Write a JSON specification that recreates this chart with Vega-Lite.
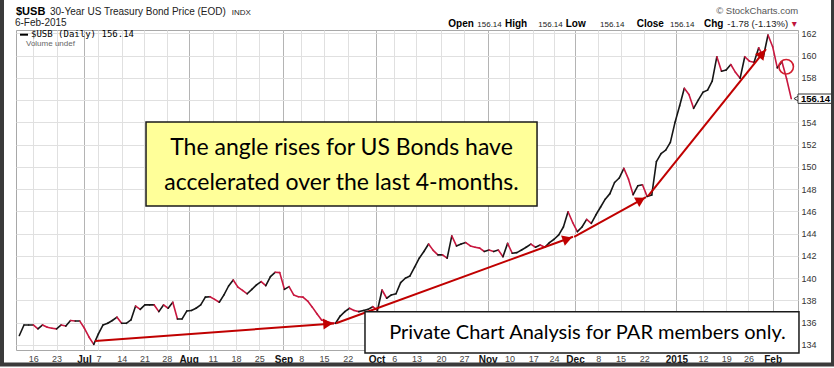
{
  "$schema": "https://vega.github.io/schema/vega-lite/v6.json",
  "width": 782,
  "height": 320,
  "autosize": {"type": "none"},
  "padding": {"left": 16, "top": 30, "right": 36, "bottom": 18},
  "background": "white",
  "config": {"view": {"stroke": "#a8a8a8", "strokeWidth": 1}, "axis": {"labelFont": "Liberation Sans"}},
  "datasets": {
    "px": [
      {"d":"2014-06-11","i":0,"p":134.85},{"d":"2014-06-12","i":1,"p":135.8},{"d":"2014-06-13","i":2,"p":135.8},{"d":"2014-06-16","i":3,"p":135.8},{"d":"2014-06-17","i":4,"p":135.45},{"d":"2014-06-18","i":5,"p":135.8},{"d":"2014-06-19","i":6,"p":135.6},{"d":"2014-06-20","i":7,"p":135.5},{"d":"2014-06-23","i":8,"p":135.45},{"d":"2014-06-24","i":9,"p":135.8},{"d":"2014-06-25","i":10,"p":135.7},{"d":"2014-06-26","i":11,"p":136.2},{"d":"2014-06-27","i":12,"p":136.15},{"d":"2014-06-30","i":13,"p":136.15},
      {"d":"2014-07-01","i":14,"p":135.5},{"d":"2014-07-02","i":15,"p":134.7},{"d":"2014-07-03","i":16,"p":134.06},{"d":"2014-07-07","i":17,"p":135.0},{"d":"2014-07-08","i":18,"p":135.8},{"d":"2014-07-09","i":19,"p":135.95},{"d":"2014-07-10","i":20,"p":136.2},{"d":"2014-07-11","i":21,"p":136.5},{"d":"2014-07-14","i":22,"p":135.95},{"d":"2014-07-15","i":23,"p":135.95},{"d":"2014-07-16","i":24,"p":136.25},{"d":"2014-07-17","i":25,"p":137.5},{"d":"2014-07-18","i":26,"p":137.2},{"d":"2014-07-21","i":27,"p":137.6},{"d":"2014-07-22","i":28,"p":137.6},{"d":"2014-07-23","i":29,"p":137.6},{"d":"2014-07-24","i":30,"p":137.0},{"d":"2014-07-25","i":31,"p":137.6},{"d":"2014-07-28","i":32,"p":137.3},{"d":"2014-07-29","i":33,"p":137.84},{"d":"2014-07-30","i":34,"p":136.34},{"d":"2014-07-31","i":35,"p":136.34},
      {"d":"2014-08-01","i":36,"p":137.05},{"d":"2014-08-04","i":37,"p":137.1},{"d":"2014-08-05","i":38,"p":137.3},{"d":"2014-08-06","i":39,"p":137.6},{"d":"2014-08-07","i":40,"p":138.3},{"d":"2014-08-08","i":41,"p":138.34},{"d":"2014-08-11","i":42,"p":138.1},{"d":"2014-08-12","i":43,"p":137.84},{"d":"2014-08-13","i":44,"p":138.5},{"d":"2014-08-14","i":45,"p":139.3},{"d":"2014-08-15","i":46,"p":139.84},{"d":"2014-08-18","i":47,"p":139.2},{"d":"2014-08-19","i":48,"p":138.9},{"d":"2014-08-20","i":49,"p":138.6},{"d":"2014-08-21","i":50,"p":139.0},{"d":"2014-08-22","i":51,"p":139.4},{"d":"2014-08-25","i":52,"p":139.7},{"d":"2014-08-26","i":53,"p":139.33},{"d":"2014-08-27","i":54,"p":140.14},{"d":"2014-08-28","i":55,"p":140.53},{"d":"2014-08-29","i":56,"p":140.5},
      {"d":"2014-09-02","i":57,"p":139.0},{"d":"2014-09-03","i":58,"p":139.24},{"d":"2014-09-04","i":59,"p":138.5},{"d":"2014-09-05","i":60,"p":138.34},{"d":"2014-09-08","i":61,"p":138.3},{"d":"2014-09-09","i":62,"p":137.95},{"d":"2014-09-10","i":63,"p":137.4},{"d":"2014-09-11","i":64,"p":136.8},{"d":"2014-09-12","i":65,"p":136.25},{"d":"2014-09-15","i":66,"p":136.1},{"d":"2014-09-16","i":67,"p":136.0},{"d":"2014-09-17","i":68,"p":135.95},{"d":"2014-09-18","i":69,"p":136.6},{"d":"2014-09-19","i":70,"p":137.0},{"d":"2014-09-22","i":71,"p":137.3},{"d":"2014-09-23","i":72,"p":137.1},{"d":"2014-09-24","i":73,"p":137.0},{"d":"2014-09-25","i":74,"p":137.1},{"d":"2014-09-26","i":75,"p":137.2},{"d":"2014-09-29","i":76,"p":137.44},{"d":"2014-09-30","i":77,"p":137.1},
      {"d":"2014-10-01","i":78,"p":138.94},{"d":"2014-10-02","i":79,"p":138.2},{"d":"2014-10-03","i":80,"p":138.5},{"d":"2014-10-06","i":81,"p":138.6},{"d":"2014-10-07","i":82,"p":139.6},{"d":"2014-10-08","i":83,"p":140.0},{"d":"2014-10-09","i":84,"p":140.2},{"d":"2014-10-10","i":85,"p":141.0},{"d":"2014-10-13","i":86,"p":141.8},{"d":"2014-10-14","i":87,"p":142.4},{"d":"2014-10-15","i":88,"p":143.07},{"d":"2014-10-16","i":89,"p":142.5},{"d":"2014-10-17","i":90,"p":142.1},{"d":"2014-10-20","i":91,"p":142.1},{"d":"2014-10-21","i":92,"p":141.8},{"d":"2014-10-22","i":93,"p":143.8},{"d":"2014-10-23","i":94,"p":142.9},{"d":"2014-10-24","i":95,"p":143.07},{"d":"2014-10-27","i":96,"p":143.2},{"d":"2014-10-28","i":97,"p":142.9},{"d":"2014-10-29","i":98,"p":142.78},{"d":"2014-10-30","i":99,"p":142.7},{"d":"2014-10-31","i":100,"p":142.4},
      {"d":"2014-11-03","i":101,"p":142.53},{"d":"2014-11-04","i":102,"p":142.4},{"d":"2014-11-05","i":103,"p":142.53},{"d":"2014-11-06","i":104,"p":141.93},{"d":"2014-11-07","i":105,"p":143.13},{"d":"2014-11-10","i":106,"p":142.24},{"d":"2014-11-11","i":107,"p":142.3},{"d":"2014-11-12","i":108,"p":142.53},{"d":"2014-11-13","i":109,"p":142.78},{"d":"2014-11-14","i":110,"p":143.07},{"d":"2014-11-17","i":111,"p":142.78},{"d":"2014-11-18","i":112,"p":142.98},{"d":"2014-11-19","i":113,"p":142.78},{"d":"2014-11-20","i":114,"p":143.2},{"d":"2014-11-21","i":115,"p":143.5},{"d":"2014-11-24","i":116,"p":143.9},{"d":"2014-11-25","i":117,"p":144.6},{"d":"2014-11-26","i":118,"p":145.97},{"d":"2014-11-28","i":119,"p":145.0},
      {"d":"2014-12-01","i":120,"p":144.18},{"d":"2014-12-02","i":121,"p":144.6},{"d":"2014-12-03","i":122,"p":145.28},{"d":"2014-12-04","i":123,"p":144.93},{"d":"2014-12-05","i":124,"p":145.7},{"d":"2014-12-08","i":125,"p":146.4},{"d":"2014-12-09","i":126,"p":147.1},{"d":"2014-12-10","i":127,"p":147.6},{"d":"2014-12-11","i":128,"p":148.6},{"d":"2014-12-12","i":129,"p":149.0},{"d":"2014-12-15","i":130,"p":149.87},{"d":"2014-12-16","i":131,"p":148.9},{"d":"2014-12-17","i":132,"p":147.5},{"d":"2014-12-18","i":133,"p":148.3},{"d":"2014-12-19","i":134,"p":148.4},{"d":"2014-12-22","i":135,"p":147.35},{"d":"2014-12-23","i":136,"p":147.47},{"d":"2014-12-24","i":137,"p":150.47},{"d":"2014-12-26","i":138,"p":151.2},{"d":"2014-12-29","i":139,"p":151.5},{"d":"2014-12-30","i":140,"p":152.2},{"d":"2014-12-31","i":141,"p":154.0},
      {"d":"2015-01-02","i":142,"p":155.5},{"d":"2015-01-05","i":143,"p":157.06},{"d":"2015-01-06","i":144,"p":156.5},{"d":"2015-01-07","i":145,"p":155.26},{"d":"2015-01-08","i":146,"p":156.0},{"d":"2015-01-09","i":147,"p":156.7},{"d":"2015-01-12","i":148,"p":156.9},{"d":"2015-01-13","i":149,"p":157.7},{"d":"2015-01-14","i":150,"p":159.9},{"d":"2015-01-15","i":151,"p":158.6},{"d":"2015-01-16","i":152,"p":158.7},{"d":"2015-01-20","i":153,"p":159.2},{"d":"2015-01-21","i":154,"p":158.5},{"d":"2015-01-22","i":155,"p":157.96},{"d":"2015-01-23","i":156,"p":159.9},{"d":"2015-01-26","i":157,"p":159.5},{"d":"2015-01-27","i":158,"p":159.4},{"d":"2015-01-28","i":159,"p":160.7},{"d":"2015-01-29","i":160,"p":159.9},{"d":"2015-01-30","i":161,"p":161.85},
      {"d":"2015-02-02","i":162,"p":160.8},{"d":"2015-02-03","i":163,"p":158.9},{"d":"2015-02-04","i":164,"p":159.45},{"d":"2015-02-05","i":165,"p":157.92},{"d":"2015-02-06","i":166,"p":156.14}
    ]
  },
  "layer": [
    {
      "data": {"name": "px"},
      "transform": [
        {"window": [{"op": "lag", "field": "i", "as": "pi"}, {"op": "lag", "field": "p", "as": "pp"}], "sort": [{"field": "i", "order": "ascending"}]},
        {"filter": "datum.pi != null"}
      ],
      "mark": {"type": "rule", "strokeWidth": 1.6, "strokeCap": "round"},
      "encoding": {
        "x": {"field": "pi", "type": "quantitative", "title": null,
          "scale": {"domain": [-0.72, 167.45], "nice": false, "zero": false},
          "axis": {
            "title": null,
            "tickCount": 200,
            "values": [3,8,13.9,17,22,26.9,31.7,36.4,41.6,46.6,51.6,56.8,60.6,65.5,70.6,76.8,80.6,85.4,90.7,95.6,100.7,105.4,110.5,115,119.5,124.5,129.3,134.4,141.3,147,152,156.8,162],
            "labelExpr": "['16','23','Jul','7','14','21','28','Aug','11','18','25','Sep','8','15','22','Oct','6','13','20','27','Nov','10','17','24','Dec','8','15','22','2015','12','19','26','Feb'][indexof([3,8,13.9,17,22,26.9,31.7,36.4,41.6,46.6,51.6,56.8,60.6,65.5,70.6,76.8,80.6,85.4,90.7,95.6,100.7,105.4,110.5,115,119.5,124.5,129.3,134.4,141.3,147,152,156.8,162],datum.value)]",
            "labelOverlap": false, "labelFlush": false, "labelBound": false,
            "ticks": false, "domain": false, "grid": true, "labelPadding": 4,
            "gridColor": {"condition": {"test": "indexof([13.9,36.4,56.8,76.8,100.7,119.5,141.3,162],datum.value)>=0", "value": "#b4b4b4"}, "value": "#e0e0e0"},
            "labelFontWeight": {"condition": {"test": "indexof([13.9,36.4,56.8,76.8,100.7,119.5,141.3,162],datum.value)>=0", "value": "bold"}, "value": "normal"},
            "labelFontSize": {"condition": {"test": "indexof([13.9,36.4,56.8,76.8,100.7,119.5,141.3,162],datum.value)>=0", "value": 10}, "value": 9},
            "labelColor": {"condition": {"test": "indexof([13.9,36.4,56.8,76.8,100.7,119.5,141.3,162],datum.value)>=0", "value": "#111111"}, "value": "#444444"}
          }
        },
        "x2": {"field": "i"},
        "y": {"field": "pp", "type": "quantitative", "title": null,
          "scale": {"domain": [133.55, 162.3], "nice": false, "zero": false},
          "axis": {"title": null, "tickCount": 200, "format": "d", "labelExpr": "datum.value == 156 ? '' : datum.label", "labelOverlap": false, "orient": "right", "values": [134,136,138,140,142,144,146,148,150,152,154,156,158,160,162], "grid": true, "gridColor": "#e0e0e0", "ticks": false, "domain": false, "labelPadding": 3, "labelFontSize": 9, "labelColor": "#333333"}
        },
        "y2": {"field": "p"},
        "color": {"condition": {"test": "datum.p < datum.pp", "value": "#c8173f"}, "value": "#161616"}
      }
    },
    {
      "data": {"values": [
        {"i": 16.27, "p": 134.36, "i2": 67.67, "p2": 135.93},
        {"i": 68.1, "p": 135.95, "i2": 119.06, "p2": 143.72},
        {"i": 119.3, "p": 143.72, "i2": 134.77, "p2": 147.29},
        {"i": 135.19, "p": 147.38, "i2": 160.57, "p2": 160.59}
      ]},
      "mark": {"type": "rule", "strokeWidth": 2, "color": "#c00000"},
      "encoding": {
        "x": {"field": "i", "type": "quantitative", "title": null, "scale": {"domain": [-0.72, 167.45], "nice": false, "zero": false}},
        "x2": {"field": "i2"},
        "y": {"field": "p", "type": "quantitative", "title": null, "scale": {"domain": [133.55, 162.3], "nice": false, "zero": false}},
        "y2": {"field": "p2"}
      }
    },
    {
      "data": {"values": [{"i": 66.37, "p": 135.91}]},
      "mark": {"type": "point", "shape": "triangle-right", "size": 120, "filled": true, "color": "#c00000", "opacity": 1, "angle": -4},
      "encoding": {
        "x": {"field": "i", "type": "quantitative", "title": null, "scale": {"domain": [-0.72, 167.45], "nice": false, "zero": false}},
        "y": {"field": "p", "type": "quantitative", "title": null, "scale": {"domain": [133.55, 162.3], "nice": false, "zero": false}}
      }
    },
    {
      "data": {"values": [{"i": 117.86, "p": 143.52}]},
      "mark": {"type": "point", "shape": "triangle-right", "size": 120, "filled": true, "color": "#c00000", "opacity": 1, "angle": -20},
      "encoding": {
        "x": {"field": "i", "type": "quantitative", "title": null, "scale": {"domain": [-0.72, 167.45], "nice": false, "zero": false}},
        "y": {"field": "p", "type": "quantitative", "title": null, "scale": {"domain": [133.55, 162.3], "nice": false, "zero": false}}
      }
    },
    {
      "data": {"values": [{"i": 133.64, "p": 147.03}]},
      "mark": {"type": "point", "shape": "triangle-right", "size": 120, "filled": true, "color": "#c00000", "opacity": 1, "angle": -29},
      "encoding": {
        "x": {"field": "i", "type": "quantitative", "title": null, "scale": {"domain": [-0.72, 167.45], "nice": false, "zero": false}},
        "y": {"field": "p", "type": "quantitative", "title": null, "scale": {"domain": [133.55, 162.3], "nice": false, "zero": false}}
      }
    },
    {
      "data": {"values": [{"i": 159.75, "p": 160.17}]},
      "mark": {"type": "point", "shape": "triangle-right", "size": 120, "filled": true, "color": "#c00000", "opacity": 1, "angle": -51},
      "encoding": {
        "x": {"field": "i", "type": "quantitative", "title": null, "scale": {"domain": [-0.72, 167.45], "nice": false, "zero": false}},
        "y": {"field": "p", "type": "quantitative", "title": null, "scale": {"domain": [133.55, 162.3], "nice": false, "zero": false}}
      }
    },
    {
      "data": {"values": [{"i": 164.91, "p": 159.0}]},
      "mark": {"type": "point", "shape": "circle", "size": 210, "filled": false, "stroke": "#d21f30", "strokeWidth": 1.6, "opacity": 1},
      "encoding": {
        "x": {"field": "i", "type": "quantitative", "title": null, "scale": {"domain": [-0.72, 167.45], "nice": false, "zero": false}},
        "y": {"field": "p", "type": "quantitative", "title": null, "scale": {"domain": [133.55, 162.3], "nice": false, "zero": false}}
      }
    },
    {
      "data": {"values": [{"i": 27.24, "p": 154.03, "i2": 111.33, "p2": 146.49}]},
      "mark": {"type": "rect", "fill": "#ffff99", "stroke": "#1a1a1a", "strokeWidth": 1.5},
      "encoding": {
        "x": {"field": "i", "type": "quantitative", "title": null, "scale": {"domain": [-0.72, 167.45], "nice": false, "zero": false}},
        "x2": {"field": "i2"},
        "y": {"field": "p", "type": "quantitative", "title": null, "scale": {"domain": [133.55, 162.3], "nice": false, "zero": false}},
        "y2": {"field": "p2"}
      }
    },
    {
      "data": {"values": [
        {"i": 69.28, "p": 151.07, "t": "The angle rises for US Bonds have"},
        {"i": 69.28, "p": 147.92, "t": "accelerated over the last 4-months."}
      ]},
      "mark": {"type": "text", "font": "Lato", "fontSize": 23, "align": "center", "baseline": "alphabetic", "color": "#000000"},
      "encoding": {
        "x": {"field": "i", "type": "quantitative", "title": null, "scale": {"domain": [-0.72, 167.45], "nice": false, "zero": false}},
        "y": {"field": "p", "type": "quantitative", "title": null, "scale": {"domain": [133.55, 162.3], "nice": false, "zero": false}},
        "text": {"field": "t"}
      }
    },
    {
      "data": {"values": [{"i": 74.33, "p": 136.99, "i2": 167.66, "p2": 133.28}]},
      "mark": {"type": "rect", "fill": "#ffffff", "stroke": "#1a1a1a", "strokeWidth": 1.5},
      "encoding": {
        "x": {"field": "i", "type": "quantitative", "title": null, "scale": {"domain": [-0.72, 167.45], "nice": false, "zero": false}},
        "x2": {"field": "i2"},
        "y": {"field": "p", "type": "quantitative", "title": null, "scale": {"domain": [133.55, 162.3], "nice": false, "zero": false}},
        "y2": {"field": "p2"}
      }
    },
    {
      "data": {"values": [{"i": 122.18, "p": 134.58, "t": "Private Chart Analysis for PAR members only."}]},
      "mark": {"type": "text", "font": "Lato", "fontSize": 20, "align": "center", "baseline": "alphabetic", "color": "#000000"},
      "encoding": {
        "x": {"field": "i", "type": "quantitative", "title": null, "scale": {"domain": [-0.72, 167.45], "nice": false, "zero": false}},
        "y": {"field": "p", "type": "quantitative", "title": null, "scale": {"domain": [133.55, 162.3], "nice": false, "zero": false}},
        "text": {"field": "t"}
      }
    },
    {
      "data": {"values": [{"i": 167.24, "p": 156.14}]},
      "mark": {"type": "point", "shape": "triangle-left", "size": 50, "filled": true, "fill": "#ffffff", "stroke": "#333333", "strokeWidth": 1, "opacity": 1},
      "encoding": {
        "x": {"field": "i", "type": "quantitative", "title": null, "scale": {"domain": [-0.72, 167.45], "nice": false, "zero": false}},
        "y": {"field": "p", "type": "quantitative", "title": null, "scale": {"domain": [133.55, 162.3], "nice": false, "zero": false}}
      }
    },
    {
      "data": {"values": [{"i": 167.45, "p": 156.55, "i2": 175.2, "p2": 155.71}]},
      "mark": {"type": "rect", "fill": "#ffffff", "stroke": "#333333", "strokeWidth": 1},
      "encoding": {
        "x": {"field": "i", "type": "quantitative", "title": null, "scale": {"domain": [-0.72, 167.45], "nice": false, "zero": false}},
        "x2": {"field": "i2"},
        "y": {"field": "p", "type": "quantitative", "title": null, "scale": {"domain": [133.55, 162.3], "nice": false, "zero": false}},
        "y2": {"field": "p2"}
      }
    },
    {
      "data": {"values": [{"i": 168.1, "p": 156.14, "t": "156.14"}]},
      "mark": {"type": "text", "font": "Liberation Sans", "fontSize": 9.5, "fontWeight": "bold", "align": "left", "baseline": "middle", "color": "#000000"},
      "encoding": {
        "x": {"field": "i", "type": "quantitative", "title": null, "scale": {"domain": [-0.72, 167.45], "nice": false, "zero": false}},
        "y": {"field": "p", "type": "quantitative", "title": null, "scale": {"domain": [133.55, 162.3], "nice": false, "zero": false}},
        "text": {"field": "t"}
      }
    },
    {
      "data": {"values": [{"i": -0.72, "p": 163.64, "t": "$USB"}]},
      "mark": {"type": "text", "font": "Liberation Sans", "fontSize": 11, "fontWeight": "bold", "align": "left", "baseline": "alphabetic", "color": "#000000"},
      "encoding": {
        "x": {"field": "i", "type": "quantitative", "title": null, "scale": {"domain": [-0.72, 167.45], "nice": false, "zero": false}},
        "y": {"field": "p", "type": "quantitative", "title": null, "scale": {"domain": [133.55, 162.3], "nice": false, "zero": false}},
        "text": {"field": "t"}
      }
    },
    {
      "data": {"values": [
        {"i": 6.59, "p": 163.64, "t": "30-Year US Treasury Bond Price (EOD)"},
        {"i": -0.94, "p": 162.66, "t": "6-Feb-2015"}
      ]},
      "mark": {"type": "text", "font": "Liberation Sans", "fontSize": 10, "align": "left", "baseline": "alphabetic", "color": "#222222"},
      "encoding": {
        "x": {"field": "i", "type": "quantitative", "title": null, "scale": {"domain": [-0.72, 167.45], "nice": false, "zero": false}},
        "y": {"field": "p", "type": "quantitative", "title": null, "scale": {"domain": [133.55, 162.3], "nice": false, "zero": false}},
        "text": {"field": "t"}
      }
    },
    {
      "data": {"values": [{"i": 45.67, "p": 163.64, "t": "INDX"}]},
      "mark": {"type": "text", "font": "Liberation Sans", "fontSize": 8, "align": "left", "baseline": "alphabetic", "color": "#222222"},
      "encoding": {
        "x": {"field": "i", "type": "quantitative", "title": null, "scale": {"domain": [-0.72, 167.45], "nice": false, "zero": false}},
        "y": {"field": "p", "type": "quantitative", "title": null, "scale": {"domain": [133.55, 162.3], "nice": false, "zero": false}},
        "text": {"field": "t"}
      }
    },
    {
      "data": {"values": [
        {"i": 92.25, "p": 162.57, "t": "Open"},
        {"i": 104.44, "p": 162.57, "t": "High"},
        {"i": 117.5, "p": 162.57, "t": "Low"},
        {"i": 132.76, "p": 162.57, "t": "Close"},
        {"i": 147.24, "p": 162.57, "t": "Chg"}
      ]},
      "mark": {"type": "text", "font": "Liberation Sans", "fontSize": 10, "fontWeight": "bold", "align": "left", "baseline": "alphabetic", "color": "#000000"},
      "encoding": {
        "x": {"field": "i", "type": "quantitative", "title": null, "scale": {"domain": [-0.72, 167.45], "nice": false, "zero": false}},
        "y": {"field": "p", "type": "quantitative", "title": null, "scale": {"domain": [133.55, 162.3], "nice": false, "zero": false}},
        "text": {"field": "t"}
      }
    },
    {
      "data": {"values": [
        {"i": 98.48, "p": 162.57, "t": "156.14"},
        {"i": 111.6, "p": 162.57, "t": "156.14"},
        {"i": 124.87, "p": 162.57, "t": "156.14"},
        {"i": 139.92, "p": 162.57, "t": "156.14"}
      ]},
      "mark": {"type": "text", "font": "Liberation Sans", "fontSize": 8, "align": "left", "baseline": "alphabetic", "color": "#222222"},
      "encoding": {
        "x": {"field": "i", "type": "quantitative", "title": null, "scale": {"domain": [-0.72, 167.45], "nice": false, "zero": false}},
        "y": {"field": "p", "type": "quantitative", "title": null, "scale": {"domain": [133.55, 162.3], "nice": false, "zero": false}},
        "text": {"field": "t"}
      }
    },
    {
      "data": {"values": [{"i": 152.25, "p": 162.57, "t": "-1.78 (-1.13%)"}]},
      "mark": {"type": "text", "font": "Liberation Sans", "fontSize": 9.5, "align": "left", "baseline": "alphabetic", "color": "#222222"},
      "encoding": {
        "x": {"field": "i", "type": "quantitative", "title": null, "scale": {"domain": [-0.72, 167.45], "nice": false, "zero": false}},
        "y": {"field": "p", "type": "quantitative", "title": null, "scale": {"domain": [133.55, 162.3], "nice": false, "zero": false}},
        "text": {"field": "t"}
      }
    },
    {
      "data": {"values": [{"i": 166.1, "p": 162.57, "t": "▾"}]},
      "mark": {"type": "text", "font": "DejaVu Sans", "fontSize": 10, "align": "left", "baseline": "alphabetic", "color": "#c0143c"},
      "encoding": {
        "x": {"field": "i", "type": "quantitative", "title": null, "scale": {"domain": [-0.72, 167.45], "nice": false, "zero": false}},
        "y": {"field": "p", "type": "quantitative", "title": null, "scale": {"domain": [133.55, 162.3], "nice": false, "zero": false}},
        "text": {"field": "t"}
      }
    },
    {
      "data": {"values": [{"i": 167.49, "p": 163.78, "t": "© StockCharts.com"}]},
      "mark": {"type": "text", "font": "Liberation Sans", "fontSize": 9.5, "align": "right", "baseline": "alphabetic", "color": "#555555"},
      "encoding": {
        "x": {"field": "i", "type": "quantitative", "title": null, "scale": {"domain": [-0.72, 167.45], "nice": false, "zero": false}},
        "y": {"field": "p", "type": "quantitative", "title": null, "scale": {"domain": [133.55, 162.3], "nice": false, "zero": false}},
        "text": {"field": "t"}
      }
    },
    {
      "data": {"values": [{"i": 0.14, "p": 161.88, "i2": 1.86}]},
      "mark": {"type": "rule", "strokeWidth": 2, "color": "#000000"},
      "encoding": {
        "x": {"field": "i", "type": "quantitative", "title": null, "scale": {"domain": [-0.72, 167.45], "nice": false, "zero": false}},
        "x2": {"field": "i2"},
        "y": {"field": "p", "type": "quantitative", "title": null, "scale": {"domain": [133.55, 162.3], "nice": false, "zero": false}}
      }
    },
    {
      "data": {"values": [{"i": 2.51, "p": 161.91, "t": "$USB (Daily) 156.14"}]},
      "mark": {"type": "text", "font": "DejaVu Sans Mono", "fontSize": 9, "align": "left", "baseline": "middle", "color": "#000000"},
      "encoding": {
        "x": {"field": "i", "type": "quantitative", "title": null, "scale": {"domain": [-0.72, 167.45], "nice": false, "zero": false}},
        "y": {"field": "p", "type": "quantitative", "title": null, "scale": {"domain": [133.55, 162.3], "nice": false, "zero": false}},
        "text": {"field": "t"}
      }
    },
    {
      "data": {"values": [{"i": 1.43, "p": 161.07, "t": "Volume undef"}]},
      "mark": {"type": "text", "font": "Liberation Sans", "fontSize": 8, "align": "left", "baseline": "middle", "color": "#666666"},
      "encoding": {
        "x": {"field": "i", "type": "quantitative", "title": null, "scale": {"domain": [-0.72, 167.45], "nice": false, "zero": false}},
        "y": {"field": "p", "type": "quantitative", "title": null, "scale": {"domain": [133.55, 162.3], "nice": false, "zero": false}},
        "text": {"field": "t"}
      }
    },
    {
      "data": {"values": [{"i": -3.73, "p": 165.26, "i2": 174.98, "p2": 132.25}]},
      "mark": {"type": "rect", "fillOpacity": 0, "stroke": "#3a3a3a", "strokeWidth": 4},
      "encoding": {
        "x": {"field": "i", "type": "quantitative", "title": null, "scale": {"domain": [-0.72, 167.45], "nice": false, "zero": false}},
        "x2": {"field": "i2"},
        "y": {"field": "p", "type": "quantitative", "title": null, "scale": {"domain": [133.55, 162.3], "nice": false, "zero": false}},
        "y2": {"field": "p2"}
      }
    }
  ]
}
